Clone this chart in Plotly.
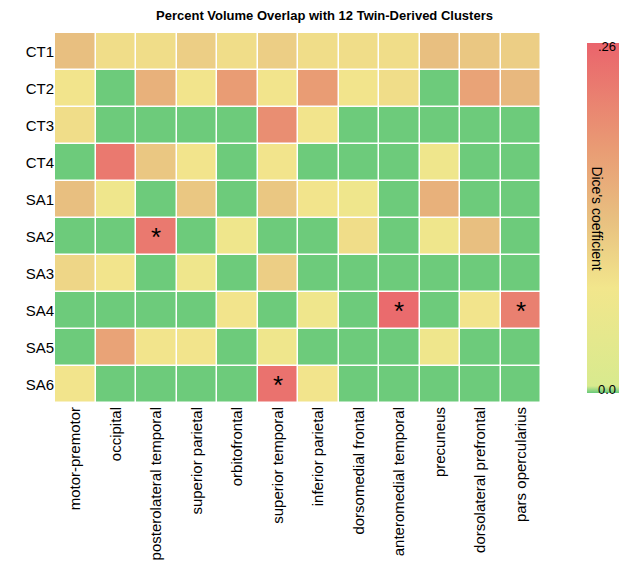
import plotly.graph_objects as go

rows = ["CT1", "CT2", "CT3", "CT4", "SA1", "SA2", "SA3", "SA4", "SA5", "SA6"]
regions = ["motor-premotor", "occipital", "posterolateral temporal", "superior parietal",
           "orbitofrontal", "superior temporal", "inferior parietal", "dorsomedial frontal",
           "anteromedial temporal", "precuneus", "dorsolateral prefrontal", "pars opercularius"]

dice = [
    [0.13, 0.09, 0.09, 0.11, 0.09, 0.11, 0.09, 0.09, 0.09, 0.13, 0.12, 0.11],
    [0.08, 0.00, 0.15, 0.08, 0.18, 0.08, 0.18, 0.08, 0.09, 0.00, 0.17, 0.14],
    [0.09, 0.00, 0.00, 0.00, 0.00, 0.20, 0.08, 0.00, 0.00, 0.00, 0.00, 0.00],
    [0.00, 0.23, 0.12, 0.08, 0.00, 0.08, 0.00, 0.00, 0.00, 0.07, 0.00, 0.00],
    [0.13, 0.07, 0.00, 0.12, 0.00, 0.12, 0.08, 0.07, 0.00, 0.15, 0.00, 0.00],
    [0.00, 0.00, 0.23, 0.00, 0.07, 0.00, 0.00, 0.09, 0.00, 0.07, 0.13, 0.00],
    [0.10, 0.08, 0.00, 0.07, 0.00, 0.11, 0.00, 0.00, 0.00, 0.00, 0.00, 0.00],
    [0.00, 0.00, 0.00, 0.00, 0.08, 0.00, 0.07, 0.00, 0.25, 0.00, 0.08, 0.22],
    [0.00, 0.17, 0.08, 0.08, 0.00, 0.07, 0.00, 0.00, 0.00, 0.07, 0.00, 0.00],
    [0.08, 0.00, 0.00, 0.00, 0.00, 0.24, 0.08, 0.00, 0.00, 0.00, 0.00, 0.00],
]
# significant cells marked with *
stars = [(5, 2), (7, 8), (7, 11), (9, 5)]

marks = [["" for _ in regions] for _ in rows]
for r, c in stars:
    marks[r][c] = "*"

colorscale = [
    [0.0, "#6dcb7b"],
    [0.001, "#6dcb7b"],
    [0.02, "#d8ea8e"],
    [0.3, "#f2e68c"],
    [0.5, "#e8bf80"],
    [0.7, "#e99b74"],
    [1.0, "#ea646c"],
]

fig = go.Figure(go.Heatmap(
    z=dice, x=regions, y=rows, zmin=0, zmax=0.26,
    colorscale=colorscale, xgap=1.5, ygap=1.5,
    text=marks, texttemplate="%{text}", textfont=dict(size=26, color="black"),
    colorbar=dict(thickness=32, len=1.0, lenmode="fraction", y=0.5, yanchor="middle",
                  x=1.075, xanchor="left", showticklabels=False, outlinewidth=0),
))

fig.update_layout(
    width=633, height=579,
    margin=dict(l=47, r=76, t=25, b=184),
    plot_bgcolor="white", paper_bgcolor="white",
    font=dict(family="Liberation Sans", size=15, color="black"),
    title=dict(text="<b>Percent Volume Overlap with 12 Twin-Derived Clusters</b>",
               x=0.5, xanchor="center", y=0.995, yanchor="top", font=dict(size=13)),
    xaxis=dict(tickangle=-90, showgrid=False, ticks="", tickfont=dict(size=15)),
    yaxis=dict(autorange="reversed", showgrid=False, ticks="", tickfont=dict(size=15)),
    annotations=[
        dict(text=".26", x=1.135, y=0.99, xref="paper", yref="paper", showarrow=False,
             xanchor="center", yanchor="top", font=dict(size=13)),
        dict(text="0.0", x=1.135, y=0.01, xref="paper", yref="paper", showarrow=False,
             xanchor="center", yanchor="bottom", font=dict(size=13)),
        dict(text="Dice's coefficient", x=1.135, y=0.5, xref="paper", yref="paper",
             showarrow=False, textangle=90, font=dict(size=14)),
    ],
)

fig.write_html("out.html")
